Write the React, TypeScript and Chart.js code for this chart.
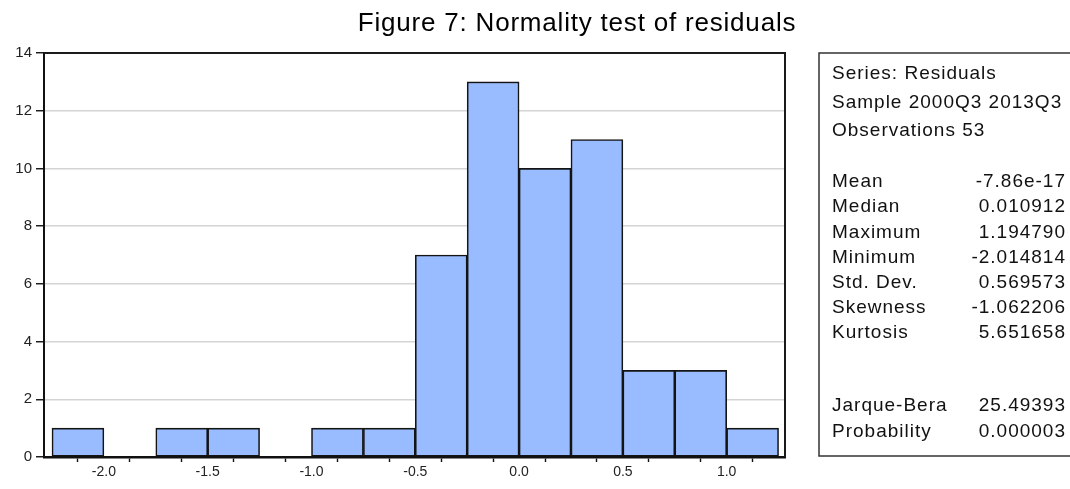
import React, { useEffect, useRef } from "react";
import { Chart, registerables } from "chart.js";

Chart.register(...registerables);

// ---- data ----
const binCenters = [-2.125, -1.875, -1.625, -1.375, -1.125, -0.875, -0.625, -0.375, -0.125, 0.125, 0.375, 0.625, 0.875, 1.125];
const binCounts = [1, 0, 1, 1, 0, 1, 1, 7, 13, 10, 11, 3, 3, 1];
const xTickValues = [-2.25, -2.0, -1.75, -1.5, -1.25, -1.0, -0.75, -0.5, -0.25, 0.0, 0.25, 0.5, 0.75, 1.0, 1.25];
const xLabelled = [-2.0, -1.5, -1.0, -0.5, 0.0, 0.5, 1.0];
const yTickValues = [0, 2, 4, 6, 8, 10, 12, 14];
const titleText = "Figure 7: Normality test of residuals";
const headerLines = ["Series: Residuals", "Sample 2000Q3 2013Q3", "Observations 53"];
const statLabels = ["Mean", "Median", "Maximum", "Minimum", "Std. Dev.", "Skewness", "Kurtosis"];
const statValues = ["-7.86e-17", "0.010912", "1.194790", "-2.014814", "0.569573", "-1.062206", "5.651658"];
const testLabels = ["Jarque-Bera", "Probability"];
const testValues = ["25.49393", "0.000003"];

const FONT = "'Liberation Sans', Arial, sans-serif";

const decorPlugin = {
  id: "decor",
  afterDraw(chart: any) {
    const { ctx, chartArea } = chart;
    ctx.save();
    // frame top & right
    ctx.strokeStyle = "#1a1a1a";
    ctx.lineWidth = 2;
    ctx.beginPath();
    ctx.moveTo(chartArea.left, chartArea.top);
    ctx.lineTo(chartArea.right, chartArea.top);
    ctx.lineTo(chartArea.right, chartArea.bottom);
    ctx.stroke();

    // title
    ctx.fillStyle = "#000";
    ctx.font = `26px ${FONT}`;
    (ctx as any).letterSpacing = "0.8px";
    ctx.textAlign = "center";
    ctx.textBaseline = "middle";
    ctx.fillText(titleText, 577, 24);

    // stats box
    const bx = 819, by = 53, bw = 260, bh = 403;
    ctx.lineWidth = 1.5;
    ctx.strokeStyle = "#333";
    ctx.strokeRect(bx, by, bw, bh);
    ctx.font = `19px ${FONT}`;
    (ctx as any).letterSpacing = "1px";
    ctx.fillStyle = "#111";
    ctx.textBaseline = "middle";
    const lx = 832, rx = 1066;
    headerLines.forEach((t, i) => {
      ctx.textAlign = "left";
      ctx.fillText(t, lx, 74 + i * 28.5);
    });
    statLabels.forEach((t, i) => {
      const y = 182 + i * 25.2;
      ctx.textAlign = "left";
      ctx.fillText(t, lx, y);
      ctx.textAlign = "right";
      ctx.fillText(statValues[i], rx, y);
    });
    testLabels.forEach((t, i) => {
      const y = 406 + i * 25.5;
      ctx.textAlign = "left";
      ctx.fillText(t, lx, y);
      ctx.textAlign = "right";
      ctx.fillText(testValues[i], rx, y);
    });
    ctx.restore();
  },
};

export default function App() {
  const ref = useRef<HTMLCanvasElement | null>(null);
  useEffect(() => {
    if (!ref.current) return;
    const chart = new Chart(ref.current, {
      type: "bar",
      data: {
        datasets: [
          {
            data: binCenters.map((x, i) => ({ x, y: binCounts[i] })),
            backgroundColor: "#99bbff",
            borderColor: "#141414",
            borderWidth: 1.6,
            borderSkipped: false,
            barPercentage: 1,
            categoryPercentage: 1,
          },
        ],
      },
      options: {
        responsive: false,
        animation: false,
        layout: { padding: { top: 53, right: 285, left: 0, bottom: 0 } },
        plugins: { legend: { display: false }, title: { display: false }, tooltip: { enabled: false } },
        scales: {
          x: {
            type: "linear",
            offset: false,
            min: -2.2885,
            max: 1.281,
            afterBuildTicks: (scale: any) => {
              scale.ticks = xTickValues.map((v) => ({ value: v }));
            },
            afterFit: (scale: any) => {
              scale.height = 32;
            },
            border: { display: true, color: "#111", width: 2.5 },
            grid: { drawOnChartArea: false, drawTicks: true, tickLength: 5, tickColor: "#111", tickWidth: 1.4 },
            ticks: {
              autoSkip: false,
              maxRotation: 0,
              padding: 2,
              color: "#222",
              font: { family: FONT, size: 14 },
              callback: (v: any) => {
                const n = Number(v);
                return xLabelled.some((l) => Math.abs(l - n) < 1e-6) ? n.toFixed(1) : "";
              },
            },
          },
          y: {
            min: 0,
            max: 14,
            afterBuildTicks: (scale: any) => {
              scale.ticks = yTickValues.map((v) => ({ value: v }));
            },
            afterFit: (scale: any) => {
              scale.width = 44;
            },
            border: { display: true, color: "#111", width: 2 },
            grid: {
              color: (c: any) => (c.tick && (c.tick.value === 0 || c.tick.value === 14) ? "rgba(0,0,0,0)" : "#d4d4d4"),
              lineWidth: 1.5,
              tickLength: 8,
              tickColor: "#111",
              tickWidth: 1.4,
            },
            ticks: {
              padding: 4,
              color: "#222",
              font: { family: FONT, size: 15 },
              callback: (v: any) => String(v),
            },
          },
        },
      },
      plugins: [decorPlugin],
    } as any);
    return () => chart.destroy();
  }, []);
  return (
    <div style={{ position: "absolute", left: 0, top: 0, width: 1070, height: 489, background: "#fff" }}>
      <canvas ref={ref} width={1070} height={489} style={{ display: "block" }} />
    </div>
  );
}
